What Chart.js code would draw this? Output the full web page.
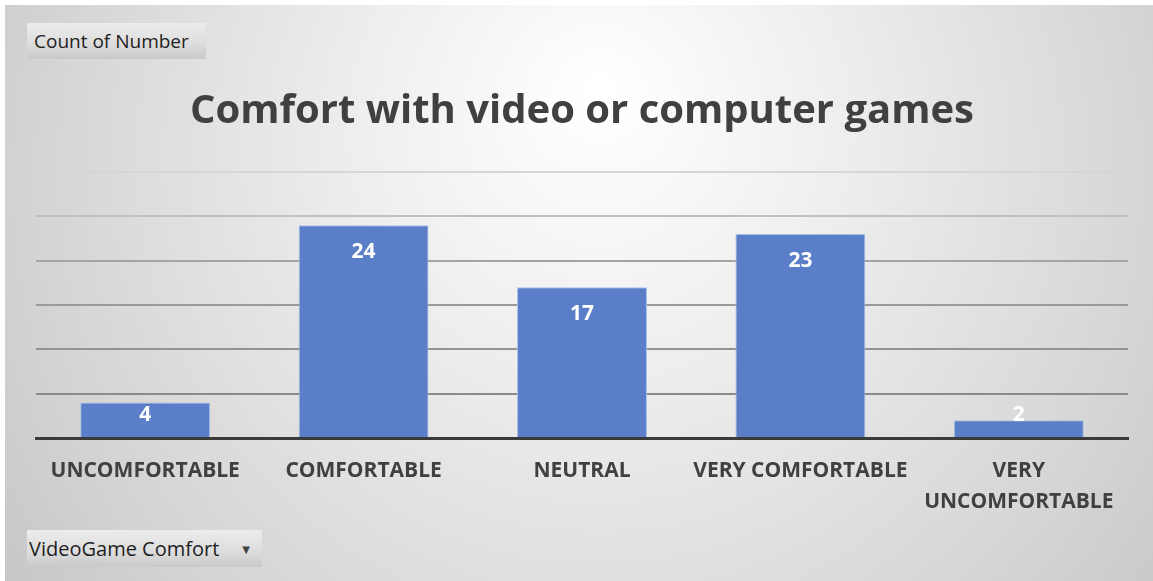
<!DOCTYPE html>
<html>
<head>
<meta charset="utf-8">
<script src="https://cdn.jsdelivr.net/npm/chart.js@4/dist/chart.umd.min.js"></script>
<style>
  html, body { margin: 0; padding: 0; background: #ffffff; }
  #wrap { position: relative; width: 1153px; height: 581px; overflow: hidden; }
  canvas { position: absolute; left: 0; top: 0; }
  .pbtn {
    position: absolute;
    font-family: "Open Sans", "DejaVu Sans", sans-serif;
    font-size: 19px;
    color: #1e1e1e;
    background: linear-gradient(to bottom, #ececec 0%, #dedede 55%, #c9c9c9 100%);
    box-sizing: border-box;
    display: flex; align-items: center;
    white-space: nowrap;
  }
</style>
</head>
<body>
<div id="wrap">
  <canvas id="c" width="1153" height="581"></canvas>
  <div class="pbtn" style="left:27px; top:23px; width:179px; height:36px; padding-left:7px;">Count of Number</div>
  <div class="pbtn" style="left:27px; top:530px; width:235px; height:37px; padding-left:2px; font-size:20px;">VideoGame Comfort<span style="margin-left:23px; font-size:10px; color:#444;">&#9660;</span></div>
</div>
<script>
const categories = ["UNCOMFORTABLE", "COMFORTABLE", "NEUTRAL", "VERY COMFORTABLE", ["VERY", "UNCOMFORTABLE"]];
const counts = [4, 24, 17, 23, 2];
const titleText = "Comfort with video or computer games";
const yMax = 30;
const yStep = 5;

const gridColors = ["rgba(0,0,0,0)", "#8a8a8a", "#939393", "#9a9a9a", "#a4a4a4", "#c0c0c0", "#d6d6d6"];

const bgPlugin = {
  id: "bg",
  beforeDraw(chart) {
    const ctx = chart.ctx;
    ctx.save();
    ctx.fillStyle = "#ffffff";
    ctx.fillRect(0, 0, chart.width, chart.height);
    const g = ctx.createRadialGradient(600, 90, 10, 600, 200, 720);
    g.addColorStop(0, "#ffffff");
    g.addColorStop(0.35, "#ededed");
    g.addColorStop(0.75, "#d6d6d6");
    g.addColorStop(1, "#c6c6c6");
    ctx.fillStyle = g;
    ctx.fillRect(5, 5, chart.width - 5, chart.height - 5);
    ctx.restore();
  }
};

const labelPlugin = {
  id: "barLabels",
  afterDatasetsDraw(chart) {
    const ctx = chart.ctx;
    const meta = chart.getDatasetMeta(0);
    const base = chart.scales.y.getPixelForValue(0);
    ctx.save();
    ctx.fillStyle = "#ffffff";
    ctx.font = "bold 21px 'Open Sans', 'DejaVu Sans', sans-serif";
    ctx.textAlign = "center";
    ctx.textBaseline = "middle";
    meta.data.forEach((bar, i) => {
      const y = Math.min(bar.y + 27, base - 23);
      ctx.fillText(String(counts[i]), bar.x, y);
    });
    ctx.restore();
  }
};

new Chart(document.getElementById("c"), {
  type: "bar",
  data: {
    labels: categories,
    datasets: [{
      data: counts,
      backgroundColor: "#5a7fc8",
      borderColor: "#a8bfe9",
      borderWidth: 1,
      categoryPercentage: 1.0,
      barPercentage: 0.595
    }]
  },
  options: {
    responsive: false,
    animation: false,
    devicePixelRatio: 1,
    layout: { padding: { left: 36, right: 25, top: 0, bottom: 54 } },
    plugins: {
      legend: { display: false },
      tooltip: { enabled: false },
      title: {
        display: true,
        text: titleText,
        color: "#404040",
        font: { family: "'Open Sans', 'DejaVu Sans', sans-serif", size: 40, weight: "bold" },
        padding: { top: 88, bottom: 36 }
      }
    },
    scales: {
      x: {
        grid: { display: false },
        border: { display: true, color: "#3a3a3a", width: 3 },
        ticks: {
          color: "#404040",
          font: { family: "'Open Sans', 'DejaVu Sans', sans-serif", size: 21, weight: "bold", lineHeight: 1.45 },
          padding: 10,
          maxRotation: 0,
          autoSkip: false
        }
      },
      y: {
        min: 0,
        max: yMax,
        ticks: { display: false, stepSize: yStep },
        border: { display: false },
        grid: {
          color: (ctx) => gridColors[ctx.index] || "#d6d6d6",
          lineWidth: 2,
          drawTicks: false
        }
      }
    }
  },
  plugins: [bgPlugin, labelPlugin]
});
</script>
</body>
</html>
